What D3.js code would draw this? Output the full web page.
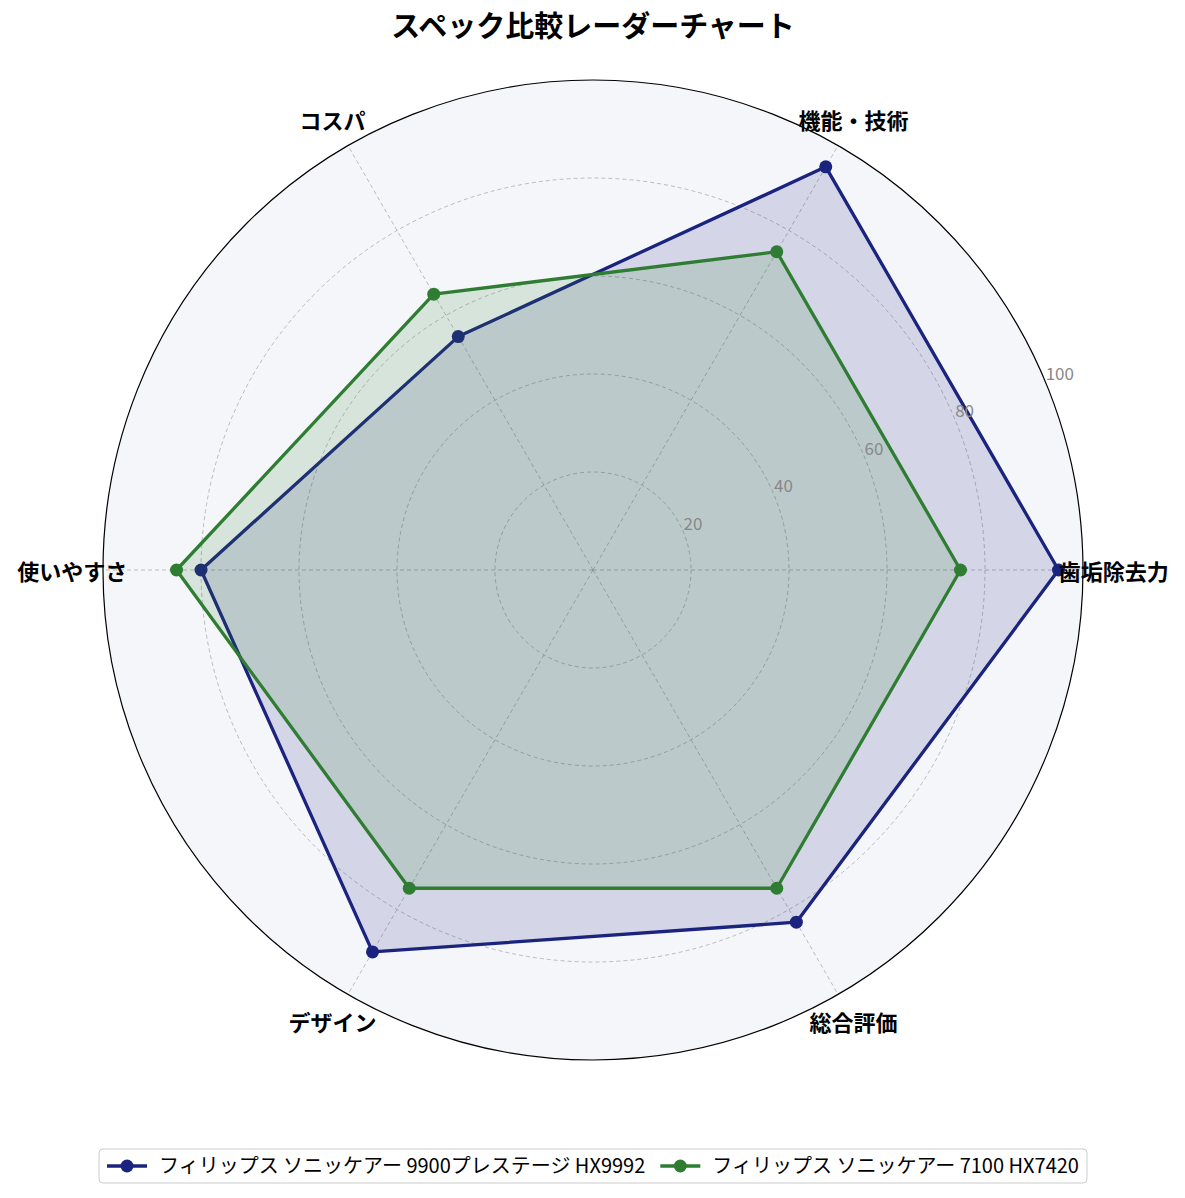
<!DOCTYPE html>
<head>
    <meta charset="utf-8">
    <script src="https://d3js.org/d3.v7.min.js"></script>
    <style>
        body { margin:0; background:#fff; }
        text { font-family: 'Noto Sans CJK JP', 'Noto Sans', sans-serif; }
        .title { font-size: 29px; font-weight: bold; }
        .cat-label { font-size: 22px; font-weight: bold; }
        .tick-label { font-size: 17px; fill: #888; }
        .grid { fill: none; stroke: #999; stroke-width: 0.8; stroke-dasharray: 4,3; opacity: .8; }
        .legend-text { font-size: 20px; }
    </style>
</head>

<body>
  <script>
    const categories = ['歯垢除去力', '機能・技術', 'コスパ', '使いやすさ', 'デザイン', '総合評価'];
    const seriesNames = ['フィリップス ソニッケアー 9900プレステージ HX9992', 'フィリップス ソニッケアー 7100 HX7420'];
    const hx9992 = [95, 95, 55, 80, 90, 83];
    const hx7420 = [75, 75, 65, 85, 75, 75];
    const gridTicks = [20, 40, 60, 80, 100];
    const colors = ['#1a237e', '#2e7d32'];

    const width = 1185, height = 1198;
    const cx = 593, cy = 570, outer = 490;

    const rScale = d3.scaleLinear().domain([0, 100]).range([0, outer]);
    // category i sits at i*60deg counter-clockwise from east; d3 angles run clockwise from north
    const angle = d3.scaleLinear().domain([0, categories.length]).range([Math.PI / 2, Math.PI / 2 - 2 * Math.PI]);

    const svg = d3.select('body').append('svg')
        .attr('width', width)
        .attr('height', height);

    svg.append('text')
        .attr('class', 'title')
        .attr('x', cx)
        .attr('y', 37)
        .attr('text-anchor', 'middle')
        .text('スペック比較レーダーチャート');

    const inner = svg.append('g')
        .attr('transform', `translate(${cx},${cy})`);

    inner.append('circle')
        .attr('r', rScale(100))
        .attr('fill', '#f5f6fa');

    inner.selectAll('.grid-circle')
        .data(gridTicks.slice(0, -1))
        .enter().append('circle')
        .attr('class', 'grid')
        .attr('r', d => rScale(d));

    inner.selectAll('.spoke')
        .data(categories)
        .enter().append('line')
        .attr('class', 'grid')
        .attr('x1', 0).attr('y1', 0)
        .attr('x2', (d, i) => d3.pointRadial(angle(i), rScale(100))[0])
        .attr('y2', (d, i) => d3.pointRadial(angle(i), rScale(100))[1]);

    const radar = d3.lineRadial()
        .angle((d, i) => angle(i))
        .radius(d => rScale(d))
        .curve(d3.curveLinearClosed);

    [hx9992, hx7420].forEach((values, s) => {
        const g = inner.append('g');
        g.append('path')
            .datum(values)
            .attr('d', radar)
            .attr('fill', colors[s])
            .attr('fill-opacity', 0.15);
        g.append('path')
            .datum(values)
            .attr('d', radar)
            .attr('fill', 'none')
            .attr('stroke', colors[s])
            .attr('stroke-width', 3.3)
            .attr('stroke-linejoin', 'round');
        g.selectAll('circle')
            .data(values)
            .enter().append('circle')
            .attr('cx', (d, i) => d3.pointRadial(angle(i), rScale(d))[0])
            .attr('cy', (d, i) => d3.pointRadial(angle(i), rScale(d))[1])
            .attr('r', 6.5)
            .attr('fill', colors[s]);
    });

    inner.append('circle')
        .attr('r', rScale(100))
        .attr('fill', 'none')
        .attr('stroke', '#000')
        .attr('stroke-width', 1.2);

    // radial tick labels at 22.5deg
    const labelAngle = Math.PI / 2 - Math.PI / 8;
    inner.selectAll('.tick-label')
        .data(gridTicks)
        .enter().append('text')
        .attr('class', 'tick-label')
        .attr('x', d => d3.pointRadial(labelAngle, rScale(d))[0])
        .attr('y', d => d3.pointRadial(labelAngle, rScale(d))[1] - 3)
        .text(d => d);

    inner.selectAll('.cat-label')
        .data(categories)
        .enter().append('text')
        .attr('class', 'cat-label')
        .attr('x', (d, i) => d3.pointRadial(angle(i), rScale(106.3))[0])
        .attr('y', (d, i) => d3.pointRadial(angle(i), rScale(106.3))[1])
        .attr('text-anchor', 'middle')
        .attr('dominant-baseline', 'central')
        .text(d => d);

    // legend
    const legend = svg.append('g');
    const box = legend.append('rect')
        .attr('y', 1149)
        .attr('height', 34)
        .attr('rx', 4)
        .attr('fill', '#fff')
        .attr('stroke', '#ccc');
    let lx = 0;
    const items = legend.append('g');
    seriesNames.forEach((name, s) => {
        const it = items.append('g').attr('transform', `translate(${lx},1166)`);
        it.append('line')
            .attr('x1', 0).attr('x2', 40)
            .attr('stroke', colors[s]).attr('stroke-width', 3.3);
        it.append('circle').attr('cx', 20).attr('r', 6.5).attr('fill', colors[s]);
        const t = it.append('text')
            .attr('class', 'legend-text')
            .attr('x', 52)
            .attr('dy', '0.35em')
            .text(name);
        lx += 52 + t.node().getComputedTextLength() + 15;
    });
    const total = lx - 15;
    const x0 = cx - total / 2;
    items.attr('transform', `translate(${x0},0)`);
    box.attr('x', x0 - 8).attr('width', total + 16);
  </script>
</body>
